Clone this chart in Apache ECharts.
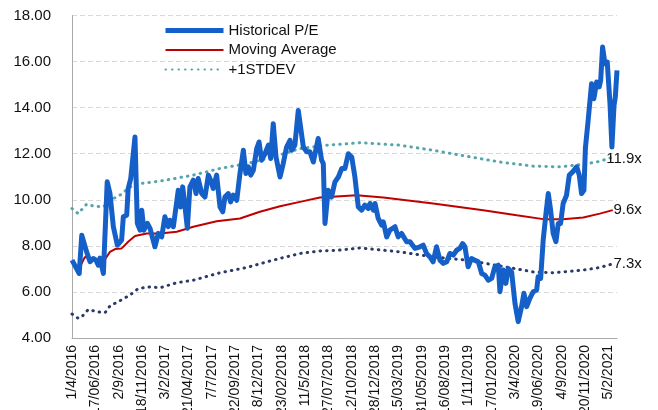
<!DOCTYPE html>
<html><head><meta charset="utf-8">
<script src="https://cdn.jsdelivr.net/npm/echarts@6/dist/echarts.min.js"></script>
<style>html,body{margin:0;padding:0;background:#fff}#c{width:658px;height:410px}</style>
</head><body><div id="c"></div>
<script>
// Tick labels on the x axis, one every 11 weeks starting at week 0
const tickLabels = ['1/4/2016','17/06/2016','2/9/2016','18/11/2016','3/2/2017','21/04/2017','7/7/2017','22/09/2017','8/12/2017','23/02/2018','11/5/2018','27/07/2018','12/10/2018','28/12/2018','15/03/2019','31/05/2019','16/08/2019','1/11/2019','17/01/2020','3/4/2020','19/06/2020','4/9/2020','20/11/2020','5/2/2021'];
const weeksPerTick = 11;
const lastWeek = 257;

// [week index, value]
const peHistory = [[0,7.38],[3.4,6.80],[4.6,8.46],[6.9,7.74],[8.5,7.31],[10,7.45],[11.3,7.38],[12.4,7.16],[13.2,7.47],[14.8,6.80],[15.6,6.82],[16.6,10.78],[17.9,10.28],[19.5,8.83],[21.4,8.03],[23.4,8.25],[24.2,9.26],[25.8,9.33],[26.5,10.49],[27.7,10.92],[28.6,10.94],[29.7,12.73],[30.8,8.98],[32.1,8.68],[32.9,9.55],[33.9,8.68],[35.5,8.98],[36.8,8.76],[39.1,7.96],[40.7,8.54],[42.3,8.39],[43.8,9.26],[45.4,8.83],[46.2,9.11],[47.8,8.83],[50.1,10.41],[51.2,9.69],[52.2,10.56],[53.3,9.69],[54.4,8.76],[55.6,10.56],[57.2,10.85],[58.5,10.27],[59.5,10.92],[61.2,10.27],[62.7,10.12],[64.3,11.07],[65.4,10.85],[66.6,10.49],[68.2,11.07],[69.8,9.69],[71.1,9.48],[72.1,10.12],[73.7,10.27],[74.8,9.91],[76.0,10.20],[77.7,9.98],[79.2,11.14],[80.8,12.15],[82.0,11.14],[83.1,11.43],[84.3,11.07],[85.5,11.28],[87.1,12.22],[88.2,12.51],[89.4,11.72],[91.0,12.0],[92.6,12.37],[93.7,11.79],[94.9,13.30],[96.2,11.86],[98.1,10.99],[99.6,11.57],[101.2,12.29],[102.8,12.58],[103.6,12.15],[105.1,12.37],[106.7,13.88],[109.1,12.29],[110.7,12.08],[112.2,12.08],[113.8,11.64],[116.1,12.66],[117.7,11.72],[118.5,11.57],[119.3,8.97],[120.8,10.41],[122.4,10.12],[124.0,10.78],[125.6,10.99],[127.2,11.36],[128.7,11.36],[130.3,12.0],[131.9,11.86],[133.4,10.99],[135.0,9.69],[136.6,9.55],[138.1,9.77],[139.7,9.62],[140.5,9.84],[142.1,9.55],[142.9,9.84],[144.4,9.19],[146.0,8.90],[146.8,9.04],[148.4,8.39],[149.9,8.68],[152.3,8.83],[153.8,8.39],[155.4,8.54],[157.8,8.18],[159.4,8.18],[161.7,7.89],[164.1,7.96],[165.6,8.03],[167.2,7.67],[168.8,7.52],[170.3,7.31],[171.9,7.96],[173.5,7.38],[175.1,7.24],[176.7,7.31],[178.2,7.67],[179.8,7.60],[181.4,7.81],[182.9,7.89],[184.2,8.10],[185.3,7.96],[186.8,7.09],[188.4,7.45],[190.0,7.38],[191.6,7.31],[193.2,6.80],[194.7,6.73],[196.3,6.51],[197.9,6.59],[199.4,7.09],[201.0,7.16],[201.8,6.01],[203.3,6.95],[204.6,6.37],[205.7,7.02],[207.3,6.87],[208.9,5.50],[210.4,4.71],[212.0,5.36],[213.1,5.94],[214.4,5.36],[215.9,5.72],[217.5,6.01],[219.1,6.08],[219.8,6.66],[221.0,6.59],[222.2,8.25],[223.5,9.40],[224.6,10.27],[225.7,9.55],[226.9,8.54],[228.2,8.18],[229.3,8.97],[230.4,8.97],[231.6,9.84],[233.2,10.20],[234.5,11.07],[236.1,11.21],[238.0,11.43],[239.2,11.07],[240.3,10.27],[241.4,10.41],[242.1,12.25],[243.4,13.45],[245.0,15.04],[246.1,14.39],[247.4,15.11],[248.6,14.90],[249.3,15.18],[250.2,16.63],[251.3,15.91],[252.4,15.98],[253.7,14.17],[254.6,12.29],[255.6,14.10],[256.2,14.46],[257,15.62]];

const movingAverage = [[0,7.34],[3.4,7.02],[6.1,7.52],[9.3,7.45],[12.4,7.42],[14.8,7.31],[17.9,7.74],[20.3,7.86],[23.4,7.89],[26.5,8.18],[29.7,8.43],[35.2,8.54],[41.5,8.54],[49.4,8.61],[57.2,8.83],[68.2,9.07],[79.2,9.19],[88.6,9.48],[98.1,9.72],[107.5,9.91],[116.9,10.10],[134.2,10.20],[146.8,10.10],[170.3,9.84],[193.9,9.55],[209.7,9.33],[222.2,9.16],[231.6,9.16],[241.1,9.23],[248.9,9.40],[255,9.55]];

const plusOneStdev = [[0,9.62],[2.9,9.40],[6.9,9.81],[10,9.73],[14.8,9.69],[17.9,9.98],[22.6,10.20],[26.5,10.49],[29.7,10.68],[41.5,10.81],[57.2,11.07],[69.8,11.36],[82.4,11.57],[94.9,11.86],[107.5,12.22],[120.1,12.37],[127,12.41],[135.8,12.48],[154.6,12.37],[170.3,12.15],[186.1,11.89],[201.8,11.64],[217.5,11.46],[230.1,11.43],[241.1,11.54],[248.9,11.67],[255,11.85]];

const minusOneStdev = [[0,5.04],[3.0,4.85],[4.6,4.92],[7.7,5.24],[11.6,5.14],[15.6,5.10],[17.9,5.39],[22.6,5.62],[27.3,5.86],[31.3,6.15],[36.8,6.22],[41.5,6.18],[49.4,6.40],[57.2,6.51],[69.8,6.83],[82.4,7.06],[94.9,7.38],[107.5,7.67],[116.9,7.78],[125.6,7.81],[135.8,7.91],[154.6,7.74],[170.3,7.52],[186.1,7.38],[201.8,7.13],[217.5,6.87],[226.9,6.83],[241.1,6.95],[248.9,7.06],[255,7.22]];

const endLabels = { ma: '9.6x', plus: '11.9x', minus: '7.3x' };

const FONT = '"Liberation Sans", Arial, sans-serif';
const chart = echarts.init(document.getElementById('c'), null, { renderer: 'canvas' });
const dotStyle = (color) => ({ color, width: 3, type: [0.5, 6], cap: 'round' });
const endLbl = (text, dy) => ({ show: true, formatter: () => text, align: 'right', distance: 0, offset: [29, dy], fontSize: 15, fontFamily: FONT, color: '#111' });

chart.setOption({
  animation: false,
  backgroundColor: '#fff',
  grid: { left: 72, right: 41, top: 15.5, bottom: 72, containLabel: false, outerBoundsMode: 'none' },
  legend: {
    data: [
      { name: 'Historical P/E', lineStyle: { width: 5, color: '#1560c8' } },
      { name: 'Moving Average', lineStyle: { width: 2, color: '#c00000' } },
      { name: '+1STDEV' }
    ],
    orient: 'vertical', left: 163, top: 23, padding: 0,
    itemWidth: 58, itemHeight: 14, itemGap: 4.5,
    itemStyle: { opacity: 0 },
    textStyle: { fontSize: 15, fontFamily: FONT, color: '#111' }
  },
  xAxis: {
    type: 'value', min: 0, max: lastWeek, interval: weeksPerTick,
    axisLine: { show: true, lineStyle: { color: '#aaa', width: 1 } },
    axisTick: { show: false },
    splitLine: { show: false },
    axisLabel: {
      rotate: 90, margin: 7, fontSize: 14, fontFamily: FONT, color: '#111',
      showMaxLabel: false, showMinLabel: true, hideOverlap: false,
      formatter: (v) => {
        const i = Math.round(v / weeksPerTick);
        return (Math.abs(v - i * weeksPerTick) < 1e-6 && i < tickLabels.length) ? tickLabels[i] : '';
      }
    }
  },
  yAxis: {
    type: 'value', min: 4, max: 18, interval: 2,
    axisLine: { show: true, lineStyle: { color: '#aaa', width: 1 } },
    axisTick: { show: false },
    splitLine: { show: true, lineStyle: { color: '#d9d9d9', type: [5, 3] } },
    axisLabel: { margin: 21, fontSize: 15, fontFamily: FONT, color: '#111', formatter: (v) => v.toFixed(2) }
  },
  series: [
    { name: '-1STDEV', type: 'line', data: minusOneStdev, symbol: 'none', color: '#2b3a67', lineStyle: dotStyle('#2b3a67'), z: 2, endLabel: endLbl(endLabels.minus, 0) },
    { name: '+1STDEV', type: 'line', data: plusOneStdev, symbol: 'none', color: '#55a5ab', lineStyle: dotStyle('#55a5ab'), z: 2, endLabel: endLbl(endLabels.plus, 2) },
    { name: 'Moving Average', type: 'line', data: movingAverage, symbol: 'none', color: '#c00000', lineStyle: { color: '#c00000', width: 2 }, z: 3, endLabel: endLbl(endLabels.ma, 0) },
    { name: 'Historical P/E', type: 'line', data: peHistory, symbol: 'none', color: '#1560c8', lineStyle: { color: '#1560c8', width: 5, join: 'round' }, z: 4 }
  ]
});
</script>
</body></html>
